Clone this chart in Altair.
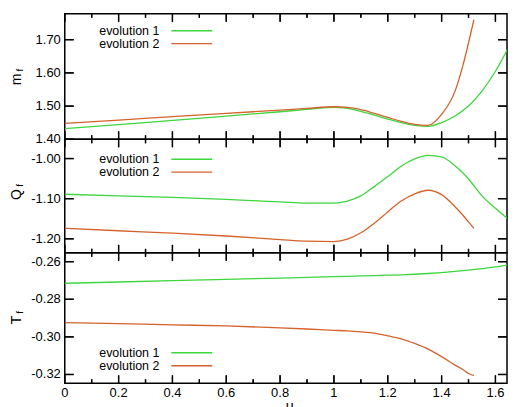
import altair as alt
import pandas as pd

# ---------------- data ----------------
x_evo1 = [0, 0.2, 0.4, 0.6, 0.8, 0.9, 1.0, 1.05, 1.1, 1.15, 1.2, 1.25, 1.3, 1.35, 1.4, 1.45, 1.5, 1.55, 1.6, 1.66]
m_evo1 = [1.432, 1.444, 1.457, 1.470, 1.483, 1.490, 1.496, 1.493, 1.484, 1.473, 1.461, 1.450, 1.442, 1.439, 1.450, 1.470, 1.500, 1.545, 1.605, 1.695]
q_evo1 = [-1.089, -1.093, -1.097, -1.102, -1.108, -1.111, -1.111, -1.106, -1.093, -1.070, -1.045, -1.019, -1.001, -0.992, -0.996, -1.018, -1.051, -1.093, -1.124, -1.158]
t_evo1 = [-0.2715, -0.2708, -0.2701, -0.2694, -0.2687, -0.2684, -0.2680, -0.2678, -0.2676, -0.2674, -0.2672, -0.2670, -0.2667, -0.2663, -0.2658, -0.2652, -0.2645, -0.2637, -0.2628, -0.2613]

x_evo2 = [0, 0.2, 0.4, 0.6, 0.8, 0.9, 1.0, 1.05, 1.1, 1.15, 1.2, 1.25, 1.3, 1.35, 1.4, 1.45, 1.48, 1.5, 1.52]
m_evo2 = [1.448, 1.458, 1.468, 1.478, 1.488, 1.493, 1.498, 1.496, 1.489, 1.478, 1.466, 1.454, 1.445, 1.442, 1.475, 1.545, 1.625, 1.690, 1.760]
q_evo2 = [-1.174, -1.180, -1.186, -1.193, -1.202, -1.206, -1.207, -1.201, -1.185, -1.161, -1.133, -1.106, -1.088, -1.079, -1.090, -1.120, -1.142, -1.158, -1.174]
t_evo2 = [-0.2924, -0.2930, -0.2936, -0.2942, -0.2952, -0.2958, -0.2965, -0.2968, -0.2973, -0.2980, -0.2995, -0.3010, -0.3035, -0.3065, -0.3105, -0.3150, -0.3175, -0.3195, -0.3205]

series_names = ["evolution 1", "evolution 2"]
series_colors = ["#3dd63d", "#d4622a"]

x_major = [0, 0.2, 0.4, 0.6, 0.8, 1.0, 1.2, 1.4, 1.6]
x_minor = [0.1, 0.3, 0.5, 0.7, 0.9, 1.1, 1.3, 1.5]

m_ticks = [1.40, 1.50, 1.60, 1.70]
q_ticks = [-1.20, -1.10, -1.00]
t_ticks = [-0.32, -0.30, -0.28, -0.26]

x_title = "\u03bc"

FONT = "Liberation Sans"
W = 444
X_DOMAIN = [0, 1.643]


def make_df(y1, y2):
    rows = []
    for x, y in zip(x_evo1, y1):
        rows.append({"x": x, "y": y, "series": series_names[0]})
    for x, y in zip(x_evo2, y2):
        rows.append({"x": x, "y": y, "series": series_names[1]})
    return pd.DataFrame(rows)


def panel(df, ydom, yvals, h, legend_rows, letter, sub_y, letter_y, show_x_labels):
    xs = alt.Scale(domain=X_DOMAIN, nice=False, zero=False)
    ys = alt.Scale(domain=ydom, nice=False, zero=False)

    lines = alt.Chart(df).mark_line(strokeWidth=1.3, interpolate="monotone", clip=True).encode(
        x=alt.X("x:Q", scale=xs, axis=None),
        y=alt.Y("y:Q", scale=ys, axis=None),
        color=alt.Color("series:N",
                        scale=alt.Scale(domain=series_names, range=series_colors),
                        legend=None),
    )

    layers = [lines]

    # inward tick marks on all four sides (positions come from the scales)
    maj = pd.DataFrame({"v": x_major})
    mnr = pd.DataFrame({"v": x_minor})
    for dfv, size in ((maj, 8), (mnr, 4)):
        for y0, y1 in ((0, size), (h - size, h)):
            layers.append(
                alt.Chart(dfv).mark_rule(strokeWidth=1.3, color="black", opacity=1).encode(
                    x=alt.X("v:Q", scale=xs, axis=None), y=alt.value(y0), y2=alt.value(y1))
            )
            layers.append(
                alt.Chart(dfv).mark_tick(orient="vertical", size=size, thickness=1.3,
                                         color="black", opacity=1).encode(
                    x=alt.X("v:Q", scale=xs, axis=None), y=alt.value((y0 + y1) / 2))
            )
    ydf = pd.DataFrame({"v": yvals, "lab": [f"{v:.2f}" for v in yvals]})
    for x0, x1 in ((0, 9), (W - 9, W)):
        layers.append(
            alt.Chart(ydf).mark_rule(strokeWidth=1.3, color="black", opacity=1).encode(
                y=alt.Y("v:Q", scale=ys, axis=None), x=alt.value(x0), x2=alt.value(x1))
        )
        layers.append(
            alt.Chart(ydf).mark_tick(orient="horizontal", size=9, thickness=1.3,
                                     color="black", opacity=1).encode(
                y=alt.Y("v:Q", scale=ys, axis=None), x=alt.value((x0 + x1) / 2))
        )

    # tick labels
    layers.append(
        alt.Chart(ydf).mark_text(font=FONT, fontSize=13, align="right", baseline="middle",
                                 color="black").encode(
            y=alt.Y("v:Q", scale=ys, axis=None), x=alt.value(-4), text="lab:N")
    )
    if show_x_labels:
        xdf = pd.DataFrame({"v": x_major, "lab": [f"{v:g}" for v in x_major]})
        layers.append(
            alt.Chart(xdf).mark_text(font=FONT, fontSize=13, align="center", baseline="middle",
                                     color="black").encode(
                x=alt.X("v:Q", scale=xs, axis=None), y=alt.value(h + 9.5), text="lab:N")
        )
        layers.append(
            alt.Chart(pd.DataFrame({"t": [x_title]})).mark_text(
                font=FONT, fontSize=14, align="center", baseline="top", color="black").encode(
                text="t:N", x=alt.value(W / 2 + 4), y=alt.value(h + 17))
        )

    # legend: label text followed by a line sample
    for name, col, ry in zip(series_names, series_colors, legend_rows):
        ldf = pd.DataFrame({"t": [name]})
        layers.append(
            alt.Chart(ldf).mark_text(font=FONT, fontSize=12.5, align="right",
                                     baseline="middle", color="black").encode(
                text="t:N", x=alt.value(95), y=alt.value(ry))
        )
        layers.append(
            alt.Chart(ldf).mark_tick(orient="horizontal", size=41, thickness=1.4,
                                     color=col, opacity=1).encode(
                x=alt.value(127.5), y=alt.value(ry))
        )

    # y title with subscript
    layers.append(
        alt.Chart(pd.DataFrame({"t": [letter]})).mark_text(
            angle=270, font=FONT, fontSize=14, align="center", baseline="alphabetic",
            color="black").encode(text="t:N", x=alt.value(-44), y=alt.value(letter_y))
    )
    layers.append(
        alt.Chart(pd.DataFrame({"t": ["f"]})).mark_text(
            angle=270, font=FONT, fontSize=10, align="center", baseline="alphabetic",
            color="black").encode(text="t:N", x=alt.value(-42), y=alt.value(sub_y))
    )

    return alt.layer(*layers).properties(width=W, height=h)


p1 = panel(make_df(m_evo1, m_evo2), [1.40, 1.778], m_ticks, 126, [17, 30], "m", 56.5, 66, False)
p2 = panel(make_df(q_evo1, q_evo2), [-1.235, -0.952], q_ticks, 114, [20, 33], "Q", 46.3, 55.5, False)
p3 = panel(make_df(t_evo1, t_evo2), [-0.3247, -0.2553], t_ticks, 131, [100.3, 113.3], "T", 59.8, 67.5, True)

chart = alt.vconcat(p1, p2, p3, spacing=0, bounds="flush").resolve_scale(
    color="independent"
).properties(
    padding={"top": 3, "left": 1, "right": 0, "bottom": 0}
).configure(background="white").configure_view(stroke="black", strokeWidth=1.5)

chart.save("out.html", embed_options={"renderer": "svg", "actions": False})
